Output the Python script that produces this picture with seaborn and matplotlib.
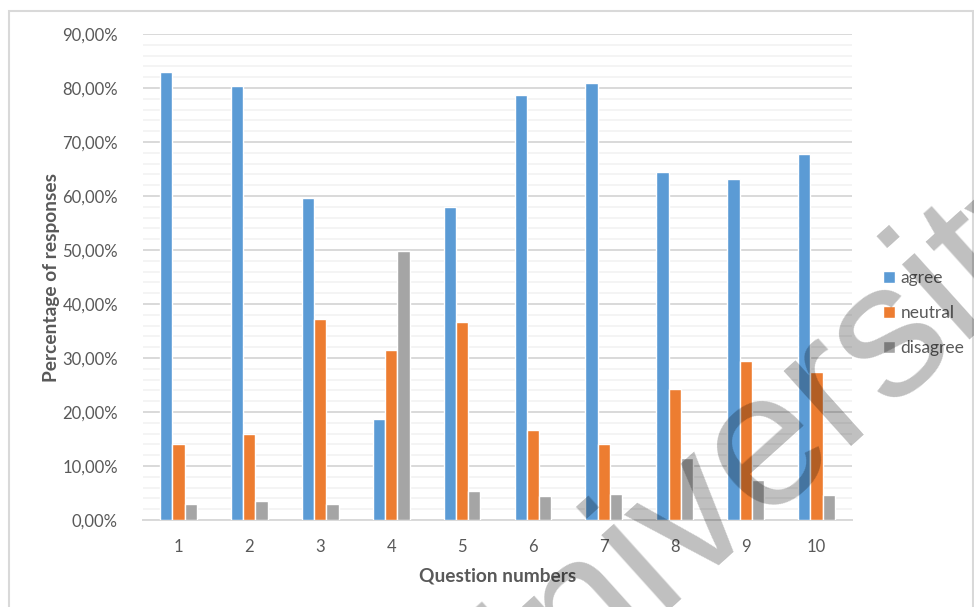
import numpy as np
import pandas as pd
import matplotlib
matplotlib.use('Agg')
import matplotlib.pyplot as plt
import seaborn as sns
from matplotlib.ticker import MultipleLocator, FuncFormatter
from matplotlib.patches import Rectangle

# --- data (percent) ---
questions = ['1', '2', '3', '4', '5', '6', '7', '8', '9', '10']
agree = [83.0, 80.4, 59.7, 18.7, 58.0, 78.7, 81.0, 64.4, 63.1, 67.8]
neutral = [14.0, 15.9, 37.2, 31.4, 36.6, 16.7, 14.0, 24.2, 29.4, 27.4]
disagree = [3.0, 3.5, 3.0, 49.9, 5.4, 4.4, 4.8, 11.5, 7.4, 4.7]
series_names = ['agree', 'neutral', 'disagree']
colors = ['#5B9BD5', '#ED7D31', '#A5A5A5']

df = pd.DataFrame({'question': questions, 'agree': agree,
                   'neutral': neutral, 'disagree': disagree})
df_long = df.melt(id_vars='question', var_name='answer', value_name='pct')

sns.set_style('white')
plt.rcParams['font.family'] = ['Lato', 'DejaVu Sans']

fig = plt.figure(figsize=(9.74, 6.07), dpi=100)
ax = fig.add_axes([143 / 974, 87 / 607, 709 / 974, 486 / 607])

# outer chart frame like the Excel chart area
fig.patches.append(Rectangle((9 / 974, -0.05), 0.99, (607 - 11) / 607 + 0.05,
                             transform=fig.transFigure, fill=False,
                             edgecolor='#D9D9D9', linewidth=1.5, zorder=0))

sns.barplot(data=df_long, x='question', y='pct', hue='answer',
            hue_order=series_names, palette=colors, order=questions,
            width=0.52, gap=0, saturation=1, ax=ax, zorder=3)

ax.set_ylim(0, 90)
ax.set_xlim(-0.5, 9.5)
ax.yaxis.set_major_locator(MultipleLocator(10))
ax.yaxis.set_minor_locator(MultipleLocator(2))
ax.yaxis.set_major_formatter(FuncFormatter(lambda v, p: f'{v:.2f}%'.replace('.', ',')))
ax.grid(which='major', axis='y', color='#D9D9D9', linewidth=1.4, zorder=0)
ax.grid(which='minor', axis='y', color='#F2F2F2', linewidth=1.2, zorder=0)
ax.set_axisbelow(True)
for s in ['top', 'right', 'left']:
    ax.spines[s].set_visible(False)
ax.spines['bottom'].set_color('#D9D9D9')
ax.spines['bottom'].set_linewidth(1.4)
ax.tick_params(axis='both', which='both', length=0, colors='#595959', labelsize=12)
ax.tick_params(axis='y', pad=18)
ax.tick_params(axis='x', pad=14)

ax.set_xlabel('Question numbers', fontsize=13.8, fontweight='bold', color='#595959', labelpad=9)
ax.set_ylabel('Percentage of responses', fontsize=13.8, fontweight='bold', color='#595959', labelpad=2)

handles, labels = ax.get_legend_handles_labels()
ax.legend(handles, labels, loc='center left', bbox_to_anchor=(1.022, 0.426),
          frameon=False, fontsize=12.5, labelcolor='#595959',
          handlelength=0.65, handleheight=0.65, handletextpad=0.35, labelspacing=1.1)

# watermark
fig.text(474 / 974, (607 - 772) / 607, 'University', fontsize=138,
         family='Liberation Sans', color='black', alpha=0.25, rotation=42,
         rotation_mode='anchor', ha='left', va='baseline', zorder=10)

fig.savefig('out.png', dpi=100)
